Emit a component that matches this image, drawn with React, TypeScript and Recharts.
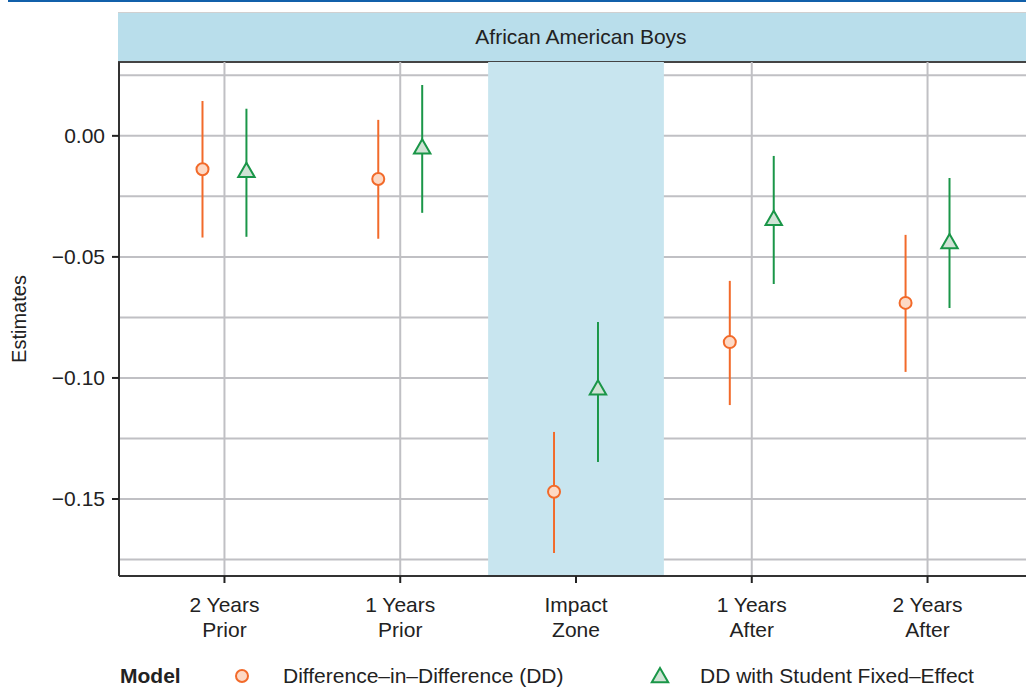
import React from "react";
import {
  CartesianGrid,
  ErrorBar,
  ReferenceArea,
  Scatter,
  ScatterChart,
  XAxis,
  YAxis,
} from "recharts";

// period labels, two lines each
const periods = [
  ["2 Years", "Prior"],
  ["1 Years", "Prior"],
  ["Impact", "Zone"],
  ["1 Years", "After"],
  ["2 Years", "After"],
];

// Difference-in-Difference (DD)
const ddEst = [-0.0138, -0.0178, -0.147, -0.0852, -0.069];
const ddLow = [-0.042, -0.0425, -0.1723, -0.1112, -0.0975];
const ddHigh = [0.0144, 0.0066, -0.1223, -0.0599, -0.0409];

// DD with Student Fixed-Effect
const feEst = [-0.015, -0.0053, -0.1049, -0.0349, -0.0445];
const feLow = [-0.0417, -0.0318, -0.1347, -0.0612, -0.0711];
const feHigh = [0.0112, 0.021, -0.0769, -0.0083, -0.0174];

const yTicks = [0, -0.05, -0.1, -0.15];
const gridY = [0.025, 0, -0.025, -0.05, -0.075, -0.1, -0.125, -0.15, -0.175];

const DODGE = 0.125;
const FONT = '"Liberation Sans", Arial, Helvetica, sans-serif';
const ORANGE = "#f26a2a";
const GREEN = "#1a9648";

const toRows = (est: number[], low: number[], high: number[], shift: number) =>
  est.map((v, i) => ({ x: i + 1 + shift, y: v, err: [v - low[i], high[i] - v] }));

const ddData = toRows(ddEst, ddLow, ddHigh, -DODGE);
const feData = toRows(feEst, feLow, feHigh, DODGE);

const CircleShape = (p: any) => (
  <circle cx={p.cx} cy={p.cy} r={6} fill="#fdd9c5" stroke={ORANGE} strokeWidth={2} />
);

const TriShape = (p: any) => (
  <polygon
    points={`${p.cx},${p.cy - 9.5} ${p.cx + 8.2},${p.cy + 4.75} ${p.cx - 8.2},${p.cy + 4.75}`}
    fill="#d0e3d5"
    stroke={GREEN}
    strokeWidth={2}
  />
);

const XTick = ({ x, y, payload }: any) => {
  const lines = periods[Math.round(payload.value) - 1] || [];
  return (
    <text x={x} y={y} textAnchor="middle" fontSize={21} fontFamily={FONT} fill="#222">
      {lines.map((l, i) => (
        <tspan key={i} x={x} dy={i === 0 ? 27 : 25}>
          {l}
        </tspan>
      ))}
    </text>
  );
};

const fmtY = (v: number) => (v === 0 ? "0.00" : "\u2212" + Math.abs(v).toFixed(2));

export default function App() {
  return (
    <div
      style={{
        position: "absolute",
        left: 0,
        top: 0,
        width: 1026,
        height: 687,
        overflow: "hidden",
        background: "#fff",
        fontFamily: FONT,
      }}
    >
      <div style={{ position: "absolute", left: 8, top: 0, width: 1018, height: 2, background: "#1160aa" }} />
      <div
        style={{
          position: "absolute",
          left: 118,
          top: 12,
          width: 926,
          height: 48,
          background: "#b9deeb",
          borderTop: "1px solid #d0d0d0",
          borderBottom: "2px solid #444",
          display: "flex",
          alignItems: "center",
          justifyContent: "center",
          fontSize: 21,
          color: "#222",
        }}
      >
        African American Boys
      </div>
      <div
        style={{
          position: "absolute",
          left: 19,
          top: 319,
          transform: "translate(-50%, -50%) rotate(-90deg)",
          fontSize: 20,
          color: "#222",
          whiteSpace: "nowrap",
        }}
      >
        Estimates
      </div>

      <div style={{ position: "absolute", left: 0, top: 0 }}>
        <ScatterChart width={1033} height={687} margin={{ top: 62, right: 0, bottom: 51, left: 0 }}>
          <CartesianGrid
            horizontalValues={gridY}
            verticalValues={[1, 2, 3, 4, 5]}
            stroke="#c0c0c4"
            strokeWidth={2}
          />
          <ReferenceArea x1={2.5} x2={3.5} fill="#c8e5ef" fillOpacity={1} stroke="none" />
          <XAxis
            type="number"
            dataKey="x"
            domain={[0.4, 5.6]}
            ticks={[1, 2, 3, 4, 5]}
            allowDataOverflow
            height={60}
            tickSize={7}
            tickLine={{ stroke: "#222", strokeWidth: 2 }}
            axisLine={{ stroke: "#333", strokeWidth: 2 }}
            tick={<XTick />}
          />
          <YAxis
            type="number"
            dataKey="y"
            domain={[-0.1818, 0.0305]}
            ticks={yTicks}
            allowDataOverflow
            width={119}
            tickSize={7}
            tickMargin={7}
            tickFormatter={fmtY}
            tickLine={{ stroke: "#222", strokeWidth: 2 }}
            axisLine={{ stroke: "#333", strokeWidth: 2 }}
            tick={{ fontSize: 21, fontFamily: FONT, fill: "#222" }}
          />
          <Scatter data={ddData} shape={CircleShape} isAnimationActive={false}>
            <ErrorBar dataKey="err" direction="y" width={0} stroke={ORANGE} strokeWidth={2} />
          </Scatter>
          <Scatter data={feData} shape={TriShape} isAnimationActive={false}>
            <ErrorBar dataKey="err" direction="y" width={0} stroke={GREEN} strokeWidth={2} />
          </Scatter>
        </ScatterChart>
      </div>

      <div
        style={{
          position: "absolute",
          top: 664,
          left: 0,
          width: 1026,
          height: 24,
          fontSize: 21,
          color: "#222",
          lineHeight: "24px",
        }}
      >
        <span style={{ position: "absolute", left: 120, fontWeight: "bold" }}>Model</span>
        <svg style={{ position: "absolute", left: 232, top: 2 }} width={20} height={20}>
          <circle cx={10} cy={10} r={6} fill="#fdd9c5" stroke={ORANGE} strokeWidth={2} />
        </svg>
        <span style={{ position: "absolute", left: 283 }}>Difference–in–Difference (DD)</span>
        <svg style={{ position: "absolute", left: 649, top: 1 }} width={22} height={22}>
          <polygon points="11,3 19.2,17.25 2.8,17.25" fill="#d0e3d5" stroke={GREEN} strokeWidth={2} />
        </svg>
        <span style={{ position: "absolute", left: 700 }}>DD with Student Fixed–Effect</span>
      </div>
    </div>
  );
}
